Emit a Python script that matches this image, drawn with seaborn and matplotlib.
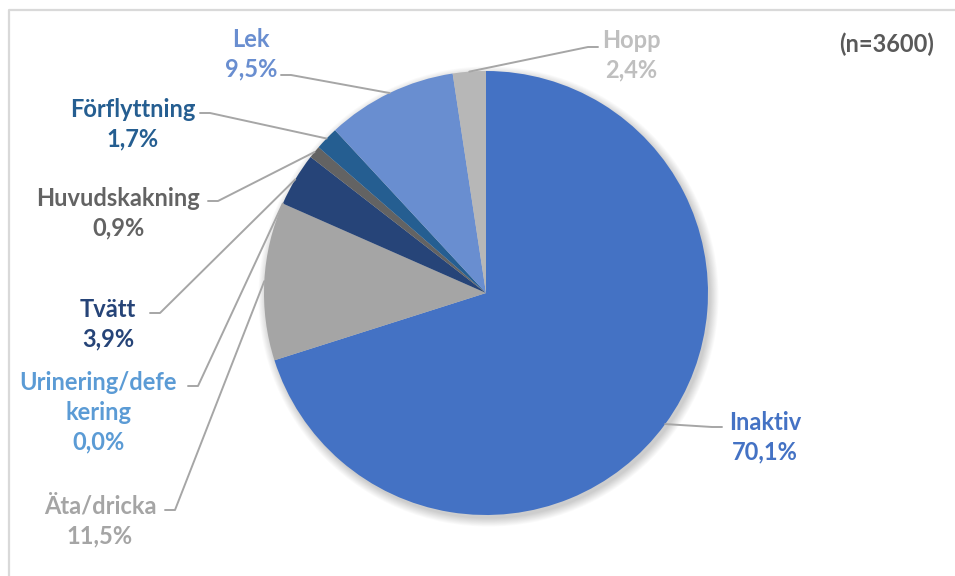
import numpy as np
import matplotlib
matplotlib.use("Agg")
import matplotlib.pyplot as plt
from matplotlib.patches import Circle
import seaborn as sns

# Behaviour categories and their share of observations (%)
categories = ["Inaktiv", "Äta/dricka", "Urinering/defekering", "Tvätt",
              "Huvudskakning", "Förflyttning", "Lek", "Hopp"]
label_names = ["Inaktiv", "Äta/dricka", "Urinering/defe\nkering", "Tvätt",
               "Huvudskakning", "Förflyttning", "Lek", "Hopp"]
shares = [70.1, 11.5, 0.0, 3.9, 0.9, 1.7, 9.5, 2.4]
colors = ["#4472C4", "#A5A5A5", "#5B9BD5", "#264478",
          "#636363", "#255E91", "#698ED0", "#B7B7B7"]
label_colors = ["#4472C4", "#A5A5A5", "#5B9BD5", "#264478",
                "#636363", "#255E91", "#698ED0", "#BFBFBF"]
sample_note = "(n=3600)"

sns.set_theme(style="white")
plt.rcParams["font.family"] = ["Lato", "DejaVu Sans"]

W, H = 955, 576
CX, CY, R = 486, 293, 222  # pie centre and radius in pixels

fig = plt.figure(figsize=(W / 100, H / 100), dpi=100)
ax = fig.add_axes([0, 0, 1, 1])


def px(x, y):
    """Pixel position (origin top-left) to data units."""
    return (x - CX) / R, (CY - y) / R


wedges, _ = ax.pie(shares, colors=colors, startangle=90, counterclock=False,
                   radius=1, center=(0, 0),
                   wedgeprops=dict(linewidth=0, edgecolor="none"))
for w in wedges:
    w.set_zorder(2)

# pie() resets the limits, so set the canvas mapping afterwards
ax.set_xlim(-CX / R, (W - CX) / R)
ax.set_ylim(-(H - CY) / R, CY / R)
ax.set_aspect("equal")
ax.axis("off")

# frame of the chart area
fx0, fy0 = px(9, 10)
ax.plot([fx0, fx0, px(W + 5, 0)[0]], [px(0, H + 5)[1], fy0, fy0],
        color="#D9D9D9", lw=1.6, solid_capstyle="butt", zorder=1)

# soft drop shadow under the pie
for k in range(10):
    ax.add_patch(Circle((2.5 / R, -3.5 / R), 1 + (k * 0.9) / R,
                        color="black", alpha=0.018, lw=0, zorder=1))

# label block centres and leader start points (pixels)
label_pos = {
    "Inaktiv": ((765, 437), (722, 427), -1),
    "Äta/dricka": ((100, 521), (165, 510), 1),
    "Urinering/defekering": ((98, 412), (188, 386), 1),
    "Tvätt": ((108, 324), (150, 313), 1),
    "Huvudskakning": ((118, 213), (208, 201), 1),
    "Förflyttning": ((133, 124), (200, 113), 1),
    "Lek": ((251, 54), (281, 75), 1),
    "Hopp": ((631, 55), (598, 47), -1),
}

for cat, name, val, w, lc in zip(categories, label_names, shares, wedges, label_colors):
    (tx, ty), (sx, sy), d = label_pos[cat]
    mid = np.deg2rad((w.theta1 + w.theta2) / 2)
    ex, ey = np.cos(mid), np.sin(mid)
    x0, y0 = px(sx, sy)
    x1, y1 = px(sx + d * 10, sy)
    ax.plot([x0, x1, ex], [y0, y1, ey], color="#A6A6A6", lw=1.4, zorder=3,
            solid_joinstyle="round")
    pct = f"{val:.1f}%".replace(".", ",")
    lx, ly = px(tx, ty)
    ax.text(lx, ly, f"{name}\n{pct}", ha="center", va="center",
            color=lc, fontsize=17, fontweight="bold", linespacing=1.35,
            zorder=4)

nx, ny = px(887, 44)
ax.text(nx, ny, sample_note, ha="center", va="center", color="#595959",
        fontsize=17, fontweight="bold")

fig.savefig("out.png", dpi=100)
